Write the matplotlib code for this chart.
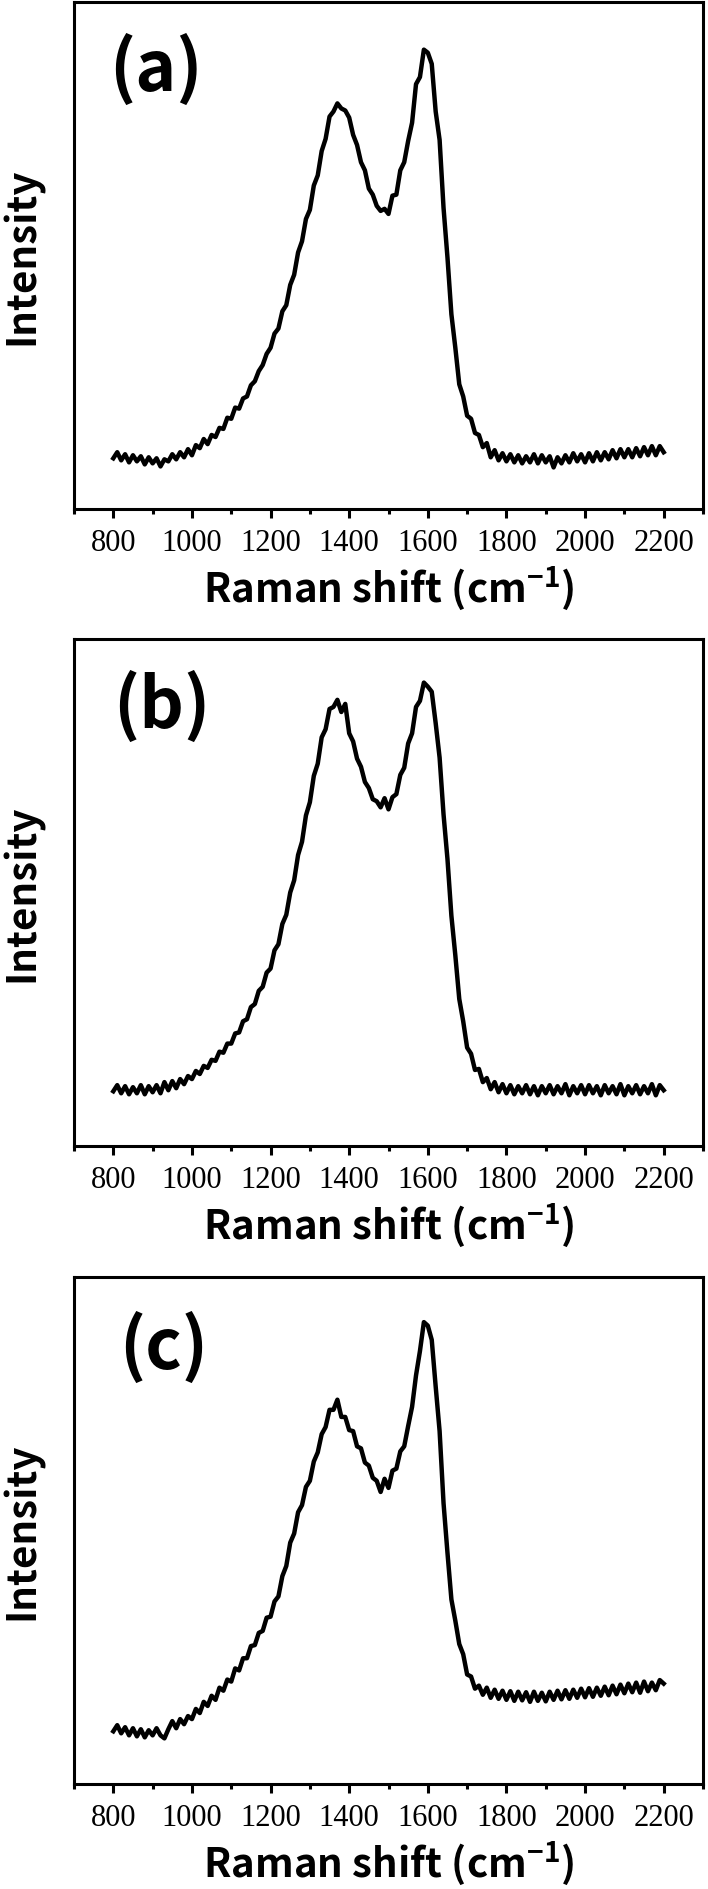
import numpy as np
import matplotlib
matplotlib.use("Agg")
import matplotlib.pyplot as plt
from matplotlib.ticker import MultipleLocator

# ラマンシフト (cm-1) 10刻みで読み取り
shift = np.arange(800, 2201, 10)

# (a) 強度は枠の高さに対する比で読み取った値(ノイズ込み)
int_a = [
    .100, .112, .096, .108, .092, .106, .094, .104, .088, .102,
    .090, .100, .084, .098, .094, .108, .098, .112, .102, .118,
    .106, .126, .120, .138, .128, .146, .142, .160, .158, .180,
    .178, .200, .198, .218, .222, .244, .252, .272, .284, .306,
    .318, .346, .356, .390, .402, .442, .462, .506, .528, .572,
    .590, .638, .658, .706, .730, .774, .784, .800, .790, .786,
    .772, .738, .718, .684, .668, .632, .620, .598, .588, .592,
    .582, .618, .620, .668, .684, .726, .762, .838, .852, .906,
    .900, .878, .784, .728, .594, .496, .384, .318, .246, .222,
    .184, .178, .150, .146, .122, .130, .102, .116, .096, .110,
    .094, .108, .092, .106, .090, .104, .092, .108, .090, .106,
    .092, .104, .082, .102, .090, .106, .092, .110, .094, .108,
    .092, .110, .094, .112, .096, .112, .098, .116, .100, .118,
    .102, .118, .102, .120, .104, .122, .106, .124, .106, .124,
    .112,
]

# (b)
int_b = [
    .108, .120, .104, .118, .102, .116, .104, .120, .102, .118,
    .106, .120, .104, .126, .110, .128, .114, .132, .122, .138,
    .132, .148, .142, .158, .154, .170, .168, .186, .184, .202,
    .202, .222, .224, .246, .250, .274, .280, .306, .314, .342,
    .350, .386, .398, .438, .456, .500, .524, .574, .600, .652,
    .678, .730, .754, .806, .822, .862, .866, .880, .856, .872,
    .814, .798, .764, .748, .718, .706, .684, .680, .668, .686,
    .664, .688, .694, .732, .746, .794, .814, .866, .878, .914,
    .906, .896, .834, .766, .654, .566, .454, .376, .290, .246,
    .194, .182, .150, .152, .126, .134, .112, .126, .106, .122,
    .104, .120, .102, .118, .104, .120, .102, .118, .100, .118,
    .104, .120, .102, .118, .104, .122, .100, .118, .104, .120,
    .102, .120, .104, .118, .100, .120, .104, .118, .102, .122,
    .100, .118, .104, .120, .102, .118, .104, .122, .100, .120,
    .110,
]

# (c)
int_c = [
    .104, .116, .100, .112, .096, .110, .094, .108, .092, .106,
    .096, .110, .096, .090, .108, .124, .110, .128, .118, .134,
    .128, .148, .140, .162, .154, .174, .166, .190, .184, .206,
    .202, .228, .224, .248, .248, .272, .274, .298, .302, .328,
    .330, .360, .370, .410, .430, .476, .494, .536, .550, .586,
    .598, .636, .654, .690, .704, .738, .738, .758, .724, .724,
    .698, .696, .666, .662, .634, .628, .604, .598, .576, .602,
    .584, .618, .622, .656, .666, .706, .744, .806, .854, .911,
    .904, .876, .784, .696, .554, .456, .364, .322, .276, .256,
    .216, .212, .188, .194, .176, .190, .170, .186, .168, .184,
    .166, .183, .164, .182, .165, .181, .162, .182, .164, .180,
    .163, .182, .166, .184, .167, .185, .168, .186, .170, .188,
    .171, .189, .172, .190, .174, .192, .175, .194, .177, .196,
    .179, .198, .181, .200, .180, .202, .183, .200, .185, .205,
    .198,
]

panels = [('(a)', int_a), ('(b)', int_b), ('(c)', int_c)]
label_pos = [(0.13, 0.868), (0.14, 0.868), (0.143, 0.862)]

plt.rcParams['font.family'] = ['Noto Sans CJK SC', 'DejaVu Sans']
plt.rcParams['font.weight'] = 'bold'
plt.rcParams['mathtext.fontset'] = 'custom'
plt.rcParams['mathtext.rm'] = 'Noto Sans CJK SC:bold'
plt.rcParams['mathtext.default'] = 'rm'

W, H = 708, 1890
fig = plt.figure(figsize=(W / 100, H / 100), dpi=100)

# 各パネルの枠(上端・下端ピクセル)
boxes = [(3, 510), (640, 1147), (1278, 1785)]
for (name, vals), (top, bot), (lx, ly) in zip(panels, boxes, label_pos):
    ax = fig.add_axes([74 / W, (H - bot) / H, 629 / W, (bot - top) / H])
    ax.plot(shift, vals, color='black', lw=3.2)
    ax.set_xlim(700, 2300)
    ax.set_ylim(0, 1)
    ax.set_yticks([])
    ax.xaxis.set_minor_locator(MultipleLocator(100))
    ax.set_xticks(np.arange(800, 2201, 200))
    for s in ax.spines.values():
        s.set_linewidth(2.2)
    ax.tick_params(axis='x', which='major', direction='out', length=6.5, width=2.2, pad=7)
    ax.tick_params(axis='x', which='minor', direction='out', length=3.3, width=2.2)
    for t in ax.get_xticklabels():
        t.set_family('Liberation Serif')
        t.set_fontweight('normal')
        t.set_fontsize(22)
    ax.set_xlabel('Raman shift (cm$^{-1}$)', fontsize=29, fontweight='bold', labelpad=5)
    ax.set_ylabel('Intensity', fontsize=29, fontweight='bold', labelpad=22)
    ax.text(lx, ly, name, transform=ax.transAxes, fontsize=50, fontweight='bold',
            ha='center', va='center')

fig.savefig('out.png', dpi=100)
